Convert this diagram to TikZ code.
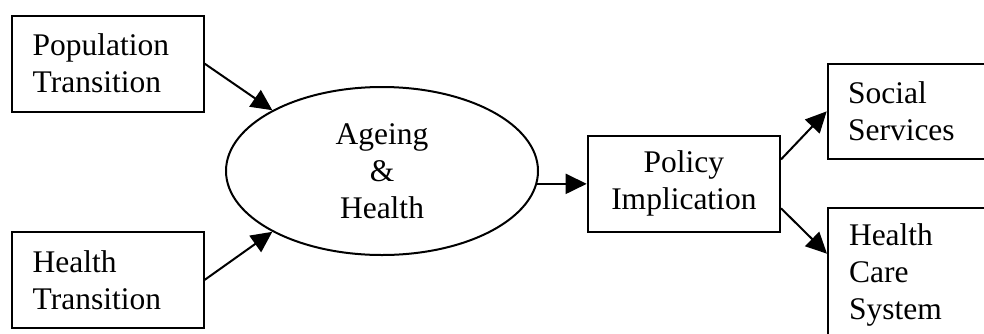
\documentclass[tikz,border=0pt]{standalone}
\usepackage{fontspec}
\setmainfont{Liberation Serif}
\usetikzlibrary{arrows.meta,calc,shapes.geometric}
\begin{document}
\begin{tikzpicture}[x=1pt,y=-1pt,
  every node/.style={font=\fontsize{31.5pt}{37pt}\selectfont},
  box/.style={draw, line width=2pt, rectangle, inner ysep=0pt, inner xsep=21pt, anchor=north west},
  arr/.style={line width=2pt, -{Triangle[length=21pt,width=20pt]}}]
\useasboundingbox (0,0) rectangle (984,333);
\clip (0,0) rectangle (984,333);
\node[box, minimum width=192pt, minimum height=96pt, text width=150pt, align=left] (pop) at (10.7,14.7) {Population\\Transition};
\node[box, minimum width=192pt, minimum height=95.7pt, text width=150pt, align=left] (ht) at (10.7,231) {Health\\Transition};
\node[draw, ellipse, line width=2pt, minimum width=312pt, minimum height=168pt, inner sep=0pt, align=center] (age) at (382,171) {Ageing\\\&\\Health};
\node[box, minimum width=192.3pt, minimum height=95.7pt, text width=150.3pt, align=center] (pol) at (586.7,135) {Policy\\Implication};
\node[box, inner xsep=20.3pt, minimum width=200pt, minimum height=95.3pt, text width=159.4pt, align=left] (soc) at (826.7,62.7) {Social\\Services};
\node[box, inner xsep=21pt, minimum width=200pt, minimum height=135pt, text width=158pt, align=left] (hcs) at (827,206.7) {Health\\Care\\System};
\draw[arr] (pop.east) -- (age.151);
\draw[arr] (ht.east) -- (age.209.5);
\draw[arr] ($(pol.west -| age.east)+(-2,0)$) -- (pol.west);
\draw[arr] ($(pol.north east)!0.25!(pol.south east)$) -- (soc.west);
\draw[arr] ($(pol.north east)!0.75!(pol.south east)$) -- ($(hcs.north west)+(0,47)$);
\end{tikzpicture}
\end{document}
